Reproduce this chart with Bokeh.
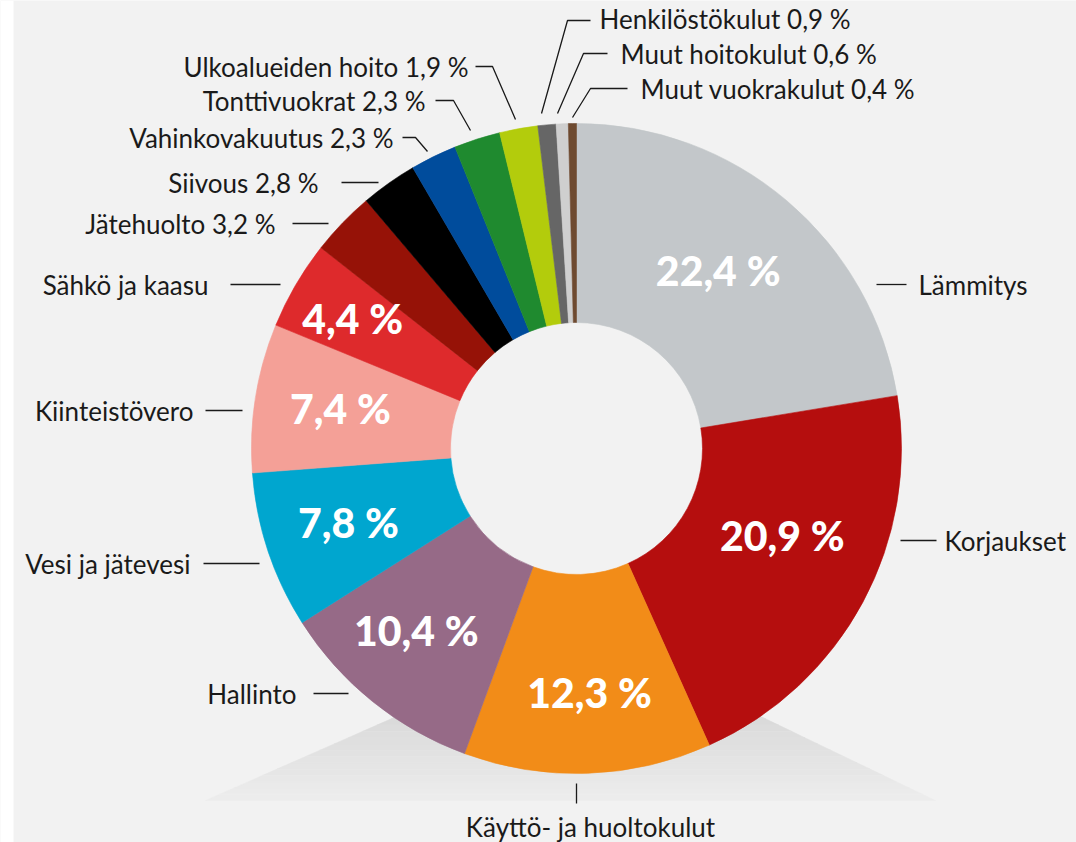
import numpy as np
from bokeh.plotting import figure
from bokeh.models import Range1d, ColumnDataSource
from bokeh.core.properties import value
from bokeh.embed import file_html
from bokeh.resources import INLINE

# ---------------- data ----------------
categories = ["Lämmitys", "Korjaukset", "Käyttö- ja huoltokulut", "Hallinto",
              "Vesi ja jätevesi", "Kiinteistövero", "Sähkö ja kaasu", "Jätehuolto",
              "Siivous", "Vahinkovakuutus", "Tonttivuokrat", "Ulkoalueiden hoito",
              "Henkilöstökulut", "Muut hoitokulut", "Muut vuokrakulut"]
shares = [22.4, 20.9, 12.3, 10.4, 7.8, 7.4, 4.4, 3.2, 2.8, 2.3, 2.3, 1.9, 0.9, 0.6, 0.4]
colors = ["#c3c7ca", "#b50e0e", "#f28c18", "#966a87", "#00a6cf", "#f4a097",
          "#de2a2c", "#961207", "#000000", "#004c9c", "#1f8a2f", "#b3cc0c",
          "#666666", "#cfcfcf", "#6e4a30"]
n_inside = 7  # slices whose share is printed inside the ring

# ---------------- layout ----------------
W, H = 1076, 842
def Y(sy):  # screen y -> data y
    return H - sy

CX, CY = 576, Y(448)
R_OUT, R_IN = 325, 126
BG = "#f2f2f2"

p = figure(width=W, height=H, x_range=Range1d(0, W), y_range=Range1d(0, H),
           output_backend="svg", toolbar_location=None, min_border=0,
           background_fill_color=BG, border_fill_color=BG)
p.axis.visible = False
p.grid.visible = False
p.outline_line_color = None

# white strip at the left edge
p.quad(left=0, right=13, bottom=0, top=H, fill_color="white", line_color=None)

# soft shadow under the ring
bands = 14
top_sy, bot_sy = 712, 800
c0, c1 = np.array([0xd9, 0xd9, 0xd9]), np.array([0xee, 0xee, 0xee])
for i in range(bands):
    t0 = i / bands
    t1 = (i + 1) / bands
    sy0 = top_sy + (bot_sy - top_sy) * t0
    sy1 = top_sy + (bot_sy - top_sy) * t1
    def xl(t): return 405 + (205 - 405) * t
    def xr(t): return 752 + (935 - 752) * t
    col = c0 + (c1 - c0) * t0
    hexc = "#%02x%02x%02x" % tuple(int(round(v)) for v in col)
    p.patch([xl(t0), xr(t0), xr(t1), xl(t1)], [Y(sy0), Y(sy0), Y(sy1), Y(sy1)],
            fill_color=hexc, line_color=hexc, line_width=0.5)

# ring
frac = np.array(shares) / sum(shares)
cum = np.concatenate([[0], np.cumsum(frac)])
start = np.pi / 2 - 2 * np.pi * cum[:-1]
end = np.pi / 2 - 2 * np.pi * cum[1:]
src = ColumnDataSource(dict(start=start, end=end, color=colors, cat=categories))
p.annular_wedge(x=CX, y=CY, inner_radius=R_IN, outer_radius=R_OUT,
                start_angle="start", end_angle="end", direction="clock",
                fill_color="color", line_color="color", line_width=0.6, source=src)

# inside labels along mid-angle, with small visual nudges (screen px)
mid = (start + end) / 2
r_lab = 236
nudge = [(-11, 2), (-2, -25), (5, 8), (-12, -2), (-4, 0), (-3, -3), (-20, -11)]
lx = [CX + r_lab * np.cos(mid[i]) + nudge[i][0] for i in range(n_inside)]
ly = [CY + r_lab * np.sin(mid[i]) - nudge[i][1] for i in range(n_inside)]
fmt = [("%.1f" % s).replace(".", ",") + " %" for s in shares]
p.text(x=lx, y=ly, text=fmt[:n_inside], text_color="white",
       text_font=value("'Lato Black', Lato"), text_font_style="bold",
       text_font_size="41px", text_align="center", text_baseline="middle")

# outside labels
out_text = categories[:n_inside] + [c + " " + f for c, f in zip(categories[n_inside:], fmt[n_inside:])]
anchors = [
    (918, 284, "left"), (944, 540, "left"), (590, 826, "center"), (296, 693, "right"),
    (190, 563, "right"), (193, 410, "right"), (208, 284, "right"), (275, 223, "right"),
    (318, 182, "right"), (393, 137, "right"), (425, 100, "right"), (468, 66, "right"),
    (599, 18, "left"), (620, 53, "left"), (640, 88, "left"),
]
leaders = [
    [(876, 284), (906, 284)],
    [(900, 540), (936, 540)],
    [(576, 783), (576, 803)],
    [(313, 693), (348, 693)],
    [(203, 563), (259, 563)],
    [(205, 410), (242, 410)],
    [(230, 284), (280, 284)],
    [(292, 223), (328, 223)],
    [(341, 182), (378, 182)],
    [(402, 137), (415, 137), (427, 151)],
    [(435, 100), (453, 100), (470, 130)],
    [(475, 66), (492, 66), (515, 119)],
    [(590, 20), (567, 20), (541, 113)],
    [(607, 53), (583, 53), (557, 113)],
    [(627, 88), (590, 88), (572, 117)],
]
for pts in leaders:
    p.line([q[0] for q in pts], [Y(q[1]) for q in pts], line_color="#1a1a1a", line_width=1.3)

for al in ["left", "right", "center"]:
    idx = [i for i, a in enumerate(anchors) if a[2] == al]
    p.text(x=[anchors[i][0] for i in idx], y=[Y(anchors[i][1]) for i in idx],
           text=[out_text[i] for i in idx], text_color="#1a1a1a",
           text_font=value("Lato"), text_font_size="26px",
           text_align=al, text_baseline="middle")

open("out.html", "w").write(file_html(p, INLINE))
